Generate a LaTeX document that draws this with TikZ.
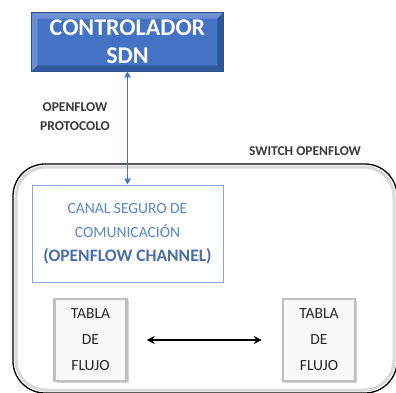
\documentclass[tikz,border=0pt]{standalone}
\usepackage{fontspec}
\setmainfont{Carlito}
\usetikzlibrary{arrows.meta,shadows,calc}
\definecolor{ctrlblue}{HTML}{4472C4}
\definecolor{ctrledge}{HTML}{2F528F}
\definecolor{bevellight}{HTML}{6E92D6}
\definecolor{beveldark}{HTML}{2E5597}
\definecolor{chanedge}{HTML}{8AA6DA}
\definecolor{chantext}{HTML}{5A86C6}
\definecolor{chanbold}{HTML}{4B6EA6}
\definecolor{labelgray}{HTML}{3A3A3A}
\tikzset{
  ctrlbox/.style={fill=ctrlblue, draw=ctrledge, line width=0.8pt, inner sep=0pt,
    minimum width=191pt, minimum height=58pt, text=white, align=center,
    font=\fontsize{24}{28}\selectfont\bfseries},
  chanbox/.style={fill=white, draw=chanedge, line width=1pt, inner sep=0pt,
    minimum width=191pt, minimum height=97pt, align=center,
    font=\fontsize{15.5}{24}\selectfont, text=chantext},
  tablebox/.style={fill=gray!5, draw=gray!50, line width=2.5pt, inner sep=0pt,
    minimum width=72pt, minimum height=82pt, align=center,
    font=\fontsize{15.5}{26}\selectfont, text=black!85,
    drop shadow={shadow xshift=2pt, shadow yshift=-2pt, opacity=0.35, fill=gray}},
  switchbox/.style={draw=black, line width=1.3pt, rounded corners=32pt,
    minimum width=384pt, minimum height=229pt, inner sep=0pt},
  tag/.style={font=\fontsize{13.5}{19}\selectfont\bfseries, text=labelgray, align=center},
  bluelink/.style={draw=ctrlblue, line width=1.3pt, {Triangle[width=6pt,length=6pt]}-{Triangle[width=6pt,length=6pt]}},
  blacklink/.style={draw=black, line width=1.6pt, {Stealth[width=8pt,length=8pt]}-{Stealth[width=8pt,length=8pt]}}
}
\begin{document}
\begin{tikzpicture}[x=1pt,y=-1pt]
\useasboundingbox (0,0) rectangle (396,392);

% switch enclosure with soft inner shading
\draw[gray!30, line width=3pt, rounded corners=30pt] (16,167) rectangle (394,390);
\node[switchbox] (sw) at (205,278.5) {};
\node[tag] (swlabel) at (305,151) {SWITCH OPENFLOW};

% SDN controller with bevelled edges
\node[ctrlbox] (ctrl) at (127.5,42) {CONTROLADOR\\SDN};
\fill[bevellight] (ctrl.north west) -- (ctrl.north east) -- ($(ctrl.north east)+(-6,6)$) -- ($(ctrl.north west)+(6,6)$) -- cycle;
\fill[bevellight!85!ctrlblue] (ctrl.north west) -- ($(ctrl.north west)+(6,6)$) -- ($(ctrl.south west)+(6,-6)$) -- (ctrl.south west) -- cycle;
\fill[beveldark] (ctrl.north east) -- ($(ctrl.north east)+(-6,6)$) -- ($(ctrl.south east)+(-6,-6)$) -- (ctrl.south east) -- cycle;
\fill[beveldark!85!ctrlblue] (ctrl.south west) -- ($(ctrl.south west)+(6,-6)$) -- ($(ctrl.south east)+(-6,-6)$) -- (ctrl.south east) -- cycle;
\draw[ctrledge, line width=0.8pt] (ctrl.north west) rectangle (ctrl.south east);

\node[tag] (proto) at (75,117) {OPENFLOW\\PROTOCOLO};

% secure channel
\node[chanbox] (chan) at (127.5,233.5) {CANAL SEGURO DE\\COMUNICACIÓN\\{\bfseries\color{chanbold}\fontsize{17.5}{24}\selectfont(OPENFLOW CHANNEL)}};

% flow tables
\node[tablebox] (t1) at (90.5,340) {TABLA\\DE\\FLUJO};
\node[tablebox] (t2) at (319,340) {TABLA\\DE\\FLUJO};

% connectors
\draw[bluelink] (ctrl) -- (chan);
\draw[blacklink, shorten <=19pt, shorten >=20pt] (t1) -- (t2);
\end{tikzpicture}
\end{document}
